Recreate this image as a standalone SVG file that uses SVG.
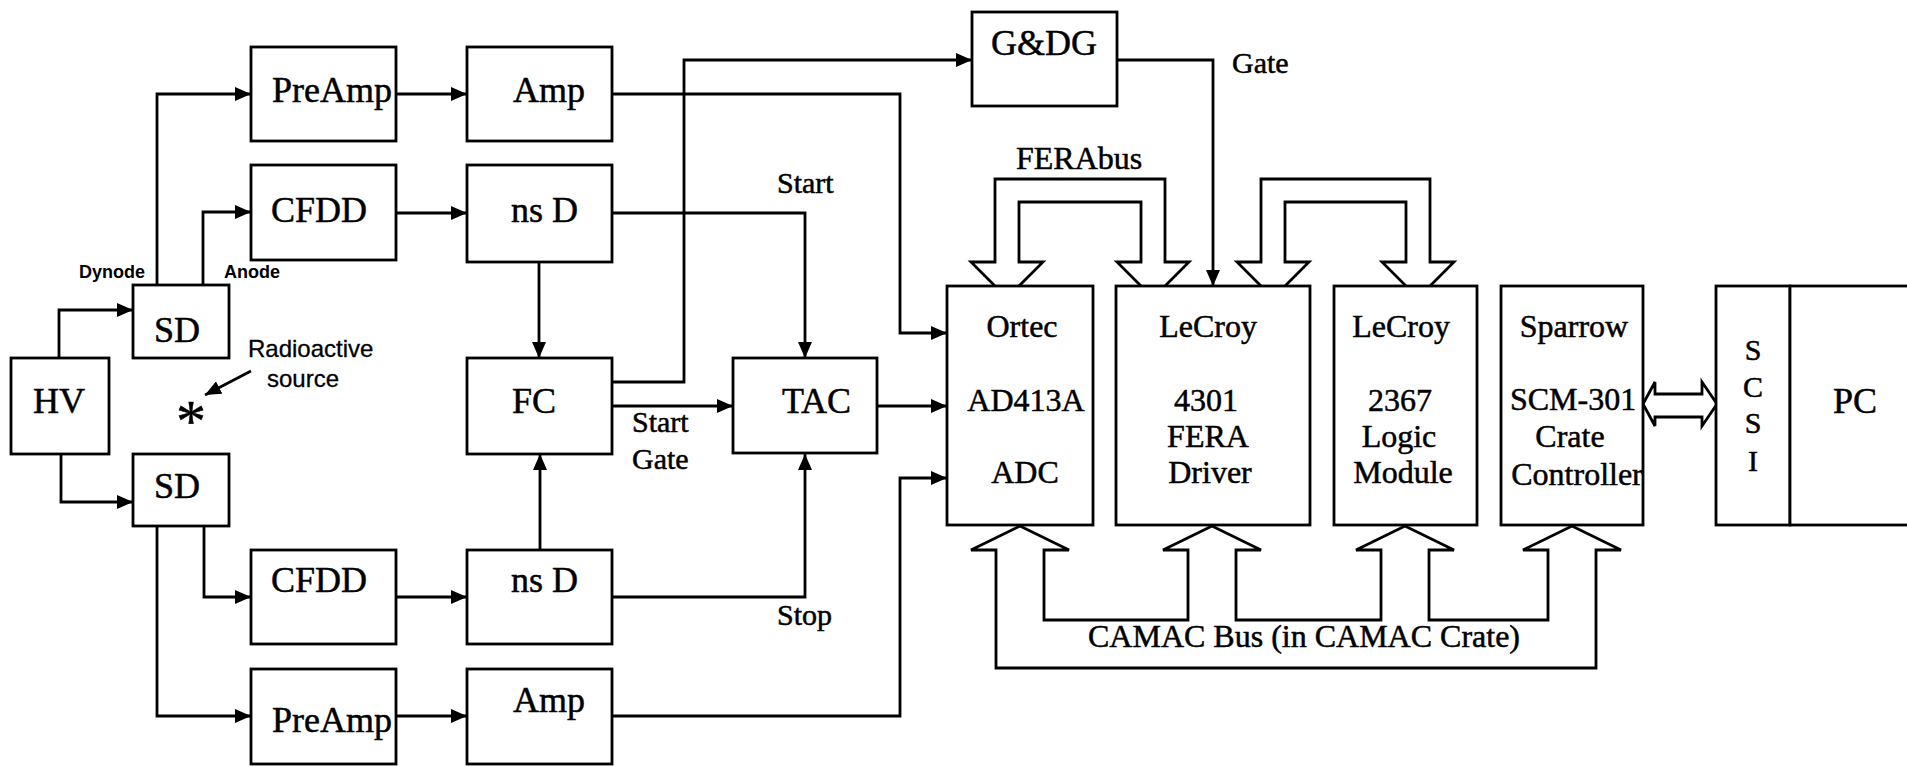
<svg xmlns="http://www.w3.org/2000/svg" width="1907" height="767" viewBox="0 0 1907 767">
<style>
.box{fill:#fff;stroke:#000;stroke-width:2.8}
.ln{fill:none;stroke:#000;stroke-width:2.8;marker-end:url(#ah)}
.bus{fill:#fff;stroke:#000;stroke-width:2.8;stroke-linejoin:miter}
.t,.m,.s{font-family:"Liberation Serif","Times New Roman",serif;fill:#000;stroke:#000;stroke-width:0.5}
.t{font-size:36px}
.m{font-size:32px}
.s{font-size:30px}
.sm{font-family:"Liberation Sans",Arial,sans-serif;font-size:18px;font-weight:bold;fill:#000}
.rs{font-family:"Liberation Sans",Arial,sans-serif;font-size:24px;fill:#000;stroke:#000;stroke-width:0.3}
</style>
<defs>
<marker id="ah" viewBox="0 0 16 14" refX="16" refY="7" markerWidth="16" markerHeight="14" markerUnits="userSpaceOnUse" orient="auto">
<path d="M0,0 L16,7 L0,14 Z" fill="#000"/>
</marker>
</defs>
<rect width="1907" height="767" fill="#fff"/>

<g id="connectors">
<path class="ln" d="M59,358 V310 H133"/>
<path class="ln" d="M61,454 V502 H133"/>
<path class="ln" d="M157,285 V94 H251"/>
<path class="ln" d="M203,285 V212 H251"/>
<path class="ln" d="M204,526 V597 H251"/>
<path class="ln" d="M157,526 V716 H251"/>
<path class="ln" d="M396,94 H467"/>
<path class="ln" d="M396,213 H467"/>
<path class="ln" d="M396,597 H467"/>
<path class="ln" d="M396,716 H467"/>
<path class="ln" d="M612,94 H900 V333 H947"/>
<path class="ln" d="M612,213 H805 V358"/>
<path class="ln" d="M539,262 V358"/>
<path class="ln" d="M612,382 H684 V60 H972"/>
<path class="ln" d="M612,406 H733"/>
<path class="ln" d="M877,406 H947"/>
<path class="ln" d="M540,550 V454"/>
<path class="ln" d="M612,597 H805 V454"/>
<path class="ln" d="M612,716 H900 V478 H947"/>
<path class="ln" d="M1117,60 H1213 V286"/>
<path class="ln" d="M251,371 L205,395"/>
<path id="fera1" class="bus" d="M995,262 V179 H1165 V262 H1189 L1153,298 L1117,262 H1141 V202 H1019 V262 H1043 L1007,298 L971,262 Z"/>
<path id="fera2" class="bus" d="M1261,262 V179 H1430 V262 H1454 L1418,298 L1382,262 H1406 V202 H1285 V262 H1309 L1273,298 L1237,262 Z"/>
<path id="camac" class="bus" d="M996,668 V550 H971 L1020,526 L1069,550 H1044 V620 H1188 V550 H1163 L1212,526 L1261,550 H1236 V620 H1381 V550 H1356 L1405,526 L1454,550 H1429 V620 H1548 V550 H1523 L1572,526 L1621,550 H1596 V668 Z"/>
<path id="scsi-link" class="bus" d="M1643,404 L1655,382 V394 H1702 V382 L1717,404 L1702,426 V417 H1655 V426 Z"/>
</g>

<g id="labels">
<text class="sm" x="79" y="278">Dynode</text>
<text class="sm" x="224" y="278">Anode</text>
<text class="rs" x="248" y="357">Radioactive</text>
<text class="rs" x="267" y="387">source</text>
<text class="t" x="191" y="441" text-anchor="middle" style="font-size:60px">*</text>
<text class="s" x="777" y="193">Start</text>
<text class="s" x="632" y="432">Start</text>
<text class="s" x="632" y="469">Gate</text>
<text class="s" x="777" y="625">Stop</text>
<text class="s" x="1232" y="73">Gate</text>
<text class="m" x="1016" y="169">FERAbus</text>
<text class="m" x="1088" y="647">CAMAC Bus (in CAMAC Crate)</text>
</g>

<g id="hv"><rect class="box" x="11" y="358" width="98" height="96"/><text class="t" x="33" y="413">HV</text></g>
<g id="sd1"><rect class="box" x="133" y="285" width="96" height="73"/><text class="t" x="154" y="342">SD</text></g>
<g id="sd2"><rect class="box" x="133" y="454" width="96" height="72"/><text class="t" x="154" y="498">SD</text></g>
<g id="preamp1"><rect class="box" x="251" y="47" width="145" height="94"/><text class="t" x="272" y="102">PreAmp</text></g>
<g id="cfdd1"><rect class="box" x="251" y="165" width="145" height="95"/><text class="t" x="271" y="222">CFDD</text></g>
<g id="cfdd2"><rect class="box" x="251" y="550" width="145" height="94"/><text class="t" x="271" y="592">CFDD</text></g>
<g id="preamp2"><rect class="box" x="251" y="669" width="145" height="95"/><text class="t" x="272" y="732">PreAmp</text></g>
<g id="amp1"><rect class="box" x="467" y="47" width="145" height="94"/><text class="t" x="513" y="102">Amp</text></g>
<g id="nsd1"><rect class="box" x="467" y="165" width="145" height="97"/><text class="t" x="511" y="222">ns D</text></g>
<g id="fc"><rect class="box" x="467" y="358" width="145" height="96"/><text class="t" x="512" y="413">FC</text></g>
<g id="nsd2"><rect class="box" x="467" y="550" width="145" height="94"/><text class="t" x="511" y="592">ns D</text></g>
<g id="amp2"><rect class="box" x="467" y="669" width="145" height="95"/><text class="t" x="513" y="712">Amp</text></g>
<g id="tac"><rect class="box" x="733" y="358" width="144" height="95"/><text class="t" x="782" y="413">TAC</text></g>
<g id="gdg"><rect class="box" x="972" y="12" width="145" height="94"/><text class="t" x="991" y="55">G&amp;DG</text></g>
<g id="ortec"><rect class="box" x="947" y="286" width="146" height="239"/>
<text class="m" x="1022" y="337" text-anchor="middle">Ortec</text>
<text class="m" x="1026" y="411" text-anchor="middle">AD413A</text>
<text class="m" x="1025" y="483" text-anchor="middle">ADC</text></g>
<g id="lecroy4301"><rect class="box" x="1116" y="286" width="194" height="239"/>
<text class="m" x="1208" y="337" text-anchor="middle">LeCroy</text>
<text class="m" x="1206" y="411" text-anchor="middle">4301</text>
<text class="m" x="1208" y="447" text-anchor="middle">FERA</text>
<text class="m" x="1210" y="483" text-anchor="middle">Driver</text></g>
<g id="lecroy2367"><rect class="box" x="1334" y="286" width="143" height="239"/>
<text class="m" x="1401" y="337" text-anchor="middle">LeCroy</text>
<text class="m" x="1400" y="411" text-anchor="middle">2367</text>
<text class="m" x="1399" y="447" text-anchor="middle">Logic</text>
<text class="m" x="1403" y="483" text-anchor="middle">Module</text></g>
<g id="sparrow"><rect class="box" x="1501" y="286" width="142" height="239"/>
<text class="m" x="1574" y="337" text-anchor="middle">Sparrow</text>
<text class="m" x="1573" y="410" text-anchor="middle">SCM-301</text>
<text class="m" x="1570" y="447" text-anchor="middle">Crate</text>
<text class="m" x="1577" y="485" text-anchor="middle">Controller</text></g>
<g id="scsi"><rect class="box" x="1716" y="286" width="74" height="239"/>
<text class="s" x="1753" y="360" text-anchor="middle">S</text>
<text class="s" x="1753" y="397" text-anchor="middle">C</text>
<text class="s" x="1753" y="433" text-anchor="middle">S</text>
<text class="s" x="1753" y="471" text-anchor="middle">I</text></g>
<g id="pc"><rect class="box" x="1790" y="286" width="130" height="239"/><text class="t" x="1833" y="413">PC</text></g>
</svg>
